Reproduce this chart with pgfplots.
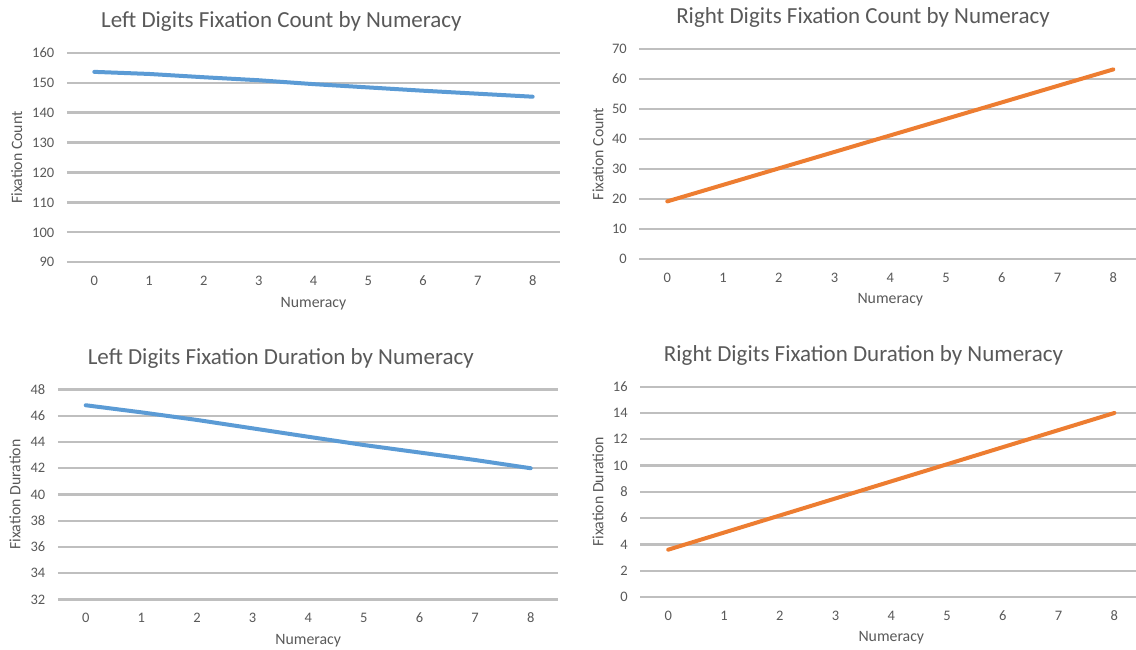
\documentclass[border=0pt]{standalone}
\usepackage{fontspec}
\setmainfont{Carlito}
\usepackage{pgfplots}
\pgfplotsset{compat=1.18}
\definecolor{gridc}{RGB}{191,191,191}
\definecolor{txt}{RGB}{89,89,89}
\definecolor{lblue}{RGB}{91,155,213}
\definecolor{lorange}{RGB}{237,125,49}
\pgfplotsset{
 panel/.style={
  scale only axis, clip=false,
  xmin=-0.5, xmax=8.5, xtick={0,...,8},
  axis line style={draw=none},
  major tick length=0pt, tick style={draw=none},
  ymajorgrids, major grid style={line width=2.2pt, draw=gridc},
  /pgf/number format/assume math mode=true,
  ticklabel style={font=\fontsize{14.5}{16}\selectfont, text=txt},
  xticklabel style={anchor=center, yshift=-18.5pt, inner sep=0pt},
  yticklabel style={anchor=east, xshift=-12.5pt, inner sep=0pt},
  xlabel={Numeracy},
  label style={font=\fontsize{15.8}{18}\selectfont, text=txt},
  xlabel style={at={(axis description cs:0.5,0)}, anchor=center, yshift=-41pt},
  title style={font=\fontsize{23}{26}\selectfont, text=txt, anchor=base, yshift=19pt},
 },
 lbl/.style={line width=4pt, line cap=round, line join=round, mark=none},
}
\begin{document}
\begin{tikzpicture}
\useasboundingbox (0,0) rectangle (1136pt,650pt);
\clip (0,0) rectangle (1136pt,650pt);
% Top-left
\begin{axis}[panel, at={(66.9pt,387.7pt)}, anchor=south west,
  width=493.2pt, height=209.6pt, ymin=90, ymax=160, ytick={90,100,...,160},
  title={Left Digits Fixation Count by Numeracy},
  title style={at={(axis description cs:0.435,1)}},
  ylabel={Fixation Count},
  ylabel style={at={(axis description cs:-0.1018,0.5)}, anchor=center}]
\addplot[lbl, draw=lblue] coordinates {(0,153.6) (1,152.9) (2,151.8) (3,150.8) (4,149.5) (5,148.4) (6,147.3) (7,146.3) (8,145.3)};
\end{axis}
% Top-right
\begin{axis}[panel, at={(639.4pt,391pt)}, anchor=south west,
  width=501.8pt, height=210pt, ymin=0, ymax=70, ytick={0,10,...,70},
  title={Right Digits Fixation Count by Numeracy},
  title style={at={(axis description cs:0.4456,1)}},
  ylabel={Fixation Count},
  ylabel style={at={(axis description cs:-0.0825,0.5)}, anchor=center}]
\addplot[lbl, draw=lorange] coordinates {(0,19.2) (1,24.7) (2,30.2) (3,35.7) (4,41.2) (5,46.7) (6,52.2) (7,57.7) (8,63.2)};
\end{axis}
% Bottom-left
\begin{axis}[panel, at={(57.9pt,50.5pt)}, anchor=south west,
  width=500.6pt, height=210pt, ymin=32, ymax=48, ytick={32,34,...,48},
  title={Left Digits Fixation Duration by Numeracy},
  title style={at={(axis description cs:0.4453,1)}},
  ylabel={Fixation Duration},
  ylabel style={at={(axis description cs:-0.0857,0.5)}, anchor=center}]
\addplot[lbl, draw=lblue] coordinates {(0,46.8) (1,46.26) (2,45.68) (3,45.04) (4,44.4) (5,43.77) (6,43.2) (7,42.63) (8,42.0)};
\end{axis}
% Bottom-right
\begin{axis}[panel, at={(640.3pt,53pt)}, anchor=south west,
  width=502pt, height=210.3pt, ymin=0, ymax=16, ytick={0,2,...,16},
  title={Right Digits Fixation Duration by Numeracy},
  title style={at={(axis description cs:0.4446,1)}},
  ylabel={Fixation Duration},
  ylabel style={at={(axis description cs:-0.0843,0.5)}, anchor=center}]
\addplot[lbl, draw=lorange] coordinates {(0,3.6) (1,4.9) (2,6.2) (3,7.5) (4,8.8) (5,10.1) (6,11.4) (7,12.7) (8,14.0)};
\end{axis}
\end{tikzpicture}
\end{document}
